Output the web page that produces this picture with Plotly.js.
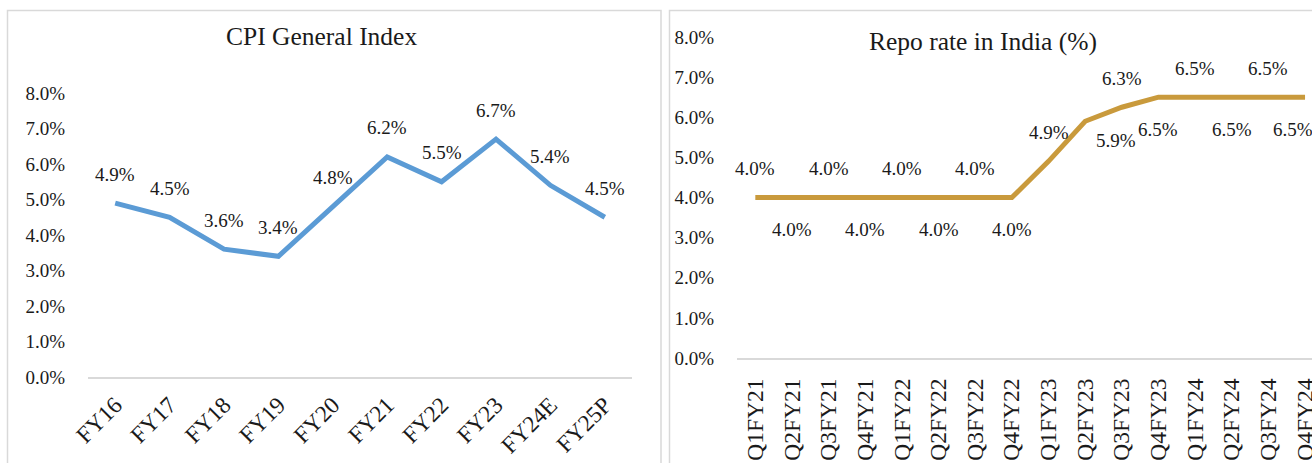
<!DOCTYPE html>
<html><head><meta charset="utf-8">
<script src="https://cdn.plot.ly/plotly-3.0.1.min.js"></script>
<style>html,body{margin:0;padding:0;background:#fff;overflow:hidden}#chart{width:1312px;height:463px}</style>
</head><body><div id="chart"></div>
<script>
// ---- data ----
const cpiYears = ['FY16','FY17','FY18','FY19','FY20','FY21','FY22','FY23','FY24E','FY25P'];
const cpiValues = [4.9, 4.5, 3.6, 3.4, 4.8, 6.2, 5.5, 6.7, 5.4, 4.5];
const repoQuarters = ['Q1FY21','Q2FY21','Q3FY21','Q4FY21','Q1FY22','Q2FY22','Q3FY22','Q4FY22',
                      'Q1FY23','Q2FY23','Q3FY23','Q4FY23','Q1FY24','Q2FY24','Q3FY24','Q4FY24'];
const repoValues = [4.0, 4.0, 4.0, 4.0, 4.0, 4.0, 4.0, 4.0, 4.9, 5.9, 6.25, 6.5, 6.5, 6.5, 6.5, 6.5];
const yTickValues = [0, 1, 2, 3, 4, 5, 6, 7, 8];
const cpiTitle = 'CPI General Index';
const repoTitle = 'Repo rate in India (%)';

// ---- helpers ----
const W = 1312, H = 463;
const px = x => x / W;
const py = y => 1 - y / H;
const FONT = 'Liberation Serif, Times New Roman, serif';
const TXT = '#1a1a1a';
const pct = v => v.toFixed(1) + '%';

const traces = [
  {x: cpiYears, y: cpiValues, xaxis: 'x', yaxis: 'y', mode: 'lines', type: 'scatter',
   line: {color: '#5B9BD5', width: 5}, hoverinfo: 'skip'},
  {x: repoQuarters, y: repoValues, xaxis: 'x2', yaxis: 'y2', mode: 'lines', type: 'scatter',
   line: {color: '#C99A3C', width: 5}, hoverinfo: 'skip'}
];

const annotations = [];
cpiYears.forEach((c, i) => {
  annotations.push({xref: 'x', yref: 'y', x: c, y: cpiValues[i], text: pct(cpiValues[i]),
    showarrow: false, yshift: 29, font: {family: FONT, size: 19, color: TXT}});
});
repoQuarters.forEach((c, i) => {
  let yshift = (i % 2 === 0) ? 29 : -32;
  let xshift = 0;
  if (i === 9) { xshift = 31; yshift = -19; }
  if (i === repoQuarters.length - 1) { xshift = -12; }
  annotations.push({xref: 'x2', yref: 'y2', x: c, y: repoValues[i], text: pct(repoValues[i]),
    showarrow: false, yshift: yshift, xshift: xshift, font: {family: FONT, size: 19, color: TXT}});
});
annotations.push({xref: 'paper', yref: 'paper', x: px(321), y: py(36), text: cpiTitle,
  showarrow: false, xanchor: 'center', yanchor: 'middle', font: {family: FONT, size: 25.5, color: TXT}});
annotations.push({xref: 'paper', yref: 'paper', x: px(983), y: py(42), text: repoTitle,
  showarrow: false, xanchor: 'center', yanchor: 'middle', font: {family: FONT, size: 25.5, color: TXT}});

const yAxisCommon = {
  range: [0, 8], tickvals: yTickValues, ticktext: yTickValues.map(pct),
  showgrid: false, zeroline: false, showline: false,
  ticks: 'outside', ticklen: 18, tickcolor: 'rgba(0,0,0,0)',
  tickfont: {family: FONT, size: 19, color: TXT}, fixedrange: true
};
const xAxisCommon = {
  type: 'category', showgrid: false, zeroline: false,
  showline: true, linecolor: '#D9D9D9', linewidth: 2,
  ticks: 'outside', tickcolor: 'rgba(0,0,0,0)',
  tickfont: {family: FONT, size: 23.5, color: TXT}, fixedrange: true
};

const layout = {
  width: W, height: H, margin: {l: 0, r: 0, t: 0, b: 0},
  paper_bgcolor: '#fff', plot_bgcolor: 'rgba(0,0,0,0)', showlegend: false,
  xaxis: Object.assign({}, xAxisCommon, {domain: [px(88), px(632)], anchor: 'y',
    range: [-0.5, cpiYears.length - 0.5], tickangle: -45, ticklen: 3}),
  yaxis: Object.assign({}, yAxisCommon, {domain: [py(377), py(93)], anchor: 'x'}),
  xaxis2: Object.assign({}, xAxisCommon, {domain: [px(737), 1], anchor: 'y2',
    range: [-0.5, 15.19], tickangle: -90, ticklen: 9}),
  yaxis2: Object.assign({}, yAxisCommon, {domain: [py(358), py(37)], anchor: 'x2'}),
  annotations: annotations,
  shapes: [
    {type: 'rect', xref: 'paper', yref: 'paper', x0: px(7.5), x1: px(661), y0: -0.1, y1: py(10.5),
     line: {color: '#D9D9D9', width: 1.5}, fillcolor: 'rgba(0,0,0,0)', layer: 'below'},
    {type: 'rect', xref: 'paper', yref: 'paper', x0: px(669.5), x1: 1.1, y0: -0.1, y1: py(10.5),
     line: {color: '#D9D9D9', width: 1.5}, fillcolor: 'rgba(0,0,0,0)', layer: 'below'}
  ]
};

Plotly.newPlot('chart', traces, layout, {displayModeBar: false, staticPlot: true});
</script>
</body></html>
